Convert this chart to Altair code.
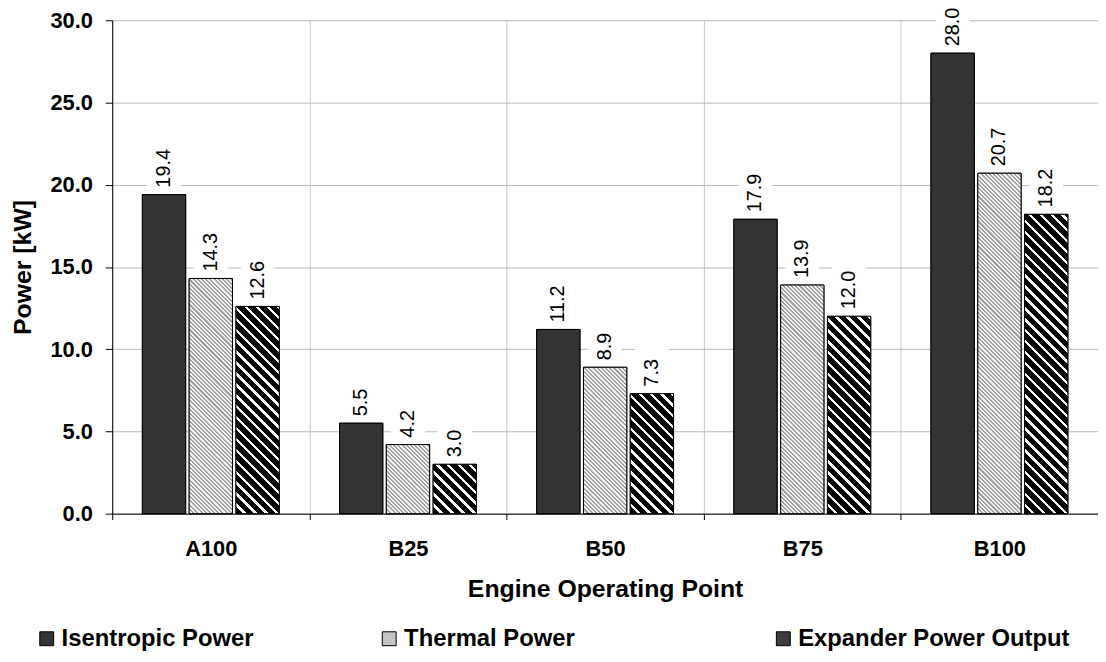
import altair as alt

categories = ["A100", "B25", "B50", "B75", "B100"]
series = ["Isentropic Power", "Thermal Power", "Expander Power Output"]
isentropic = [19.4, 5.5, 11.2, 17.9, 28.0]
thermal = [14.3, 4.2, 8.9, 13.9, 20.7]
expander = [12.6, 3.0, 7.3, 12.0, 18.2]
y_ticks = [0, 5, 10, 15, 20, 25, 30]
legend_colors = ["#333333", "#c4c4c4", "#3c3c3c"]
legend_x = [-78, 267, 664]

W, H = 993, 497
Y_MAX = 30
PAD_IN, PAD_OUT = 0.075, 0.644
FONT = "Liberation Sans, Arial, sans-serif"

band = W / len(categories)
sub_step = band / (len(series) - PAD_IN + 2 * PAD_OUT)
bar_w = sub_step * (1 - PAD_IN)


def stripes(w, h, period, frac, c1, c2):
    L = w + h
    stops = []
    k = 0
    while k * period / L < 1:
        a = k * period / L
        b = min((k * period + frac * period) / L, 1)
        c = min((k + 1) * period / L, 1)
        stops += [{"offset": a, "color": c1}, {"offset": b, "color": c1},
                  {"offset": b, "color": c2}, {"offset": c, "color": c2}]
        k += 1
    s = L / (w * w + h * h)
    return {"gradient": "linear", "x1": 0, "y1": 1, "x2": w * s, "y2": 1 - h * s, "stops": stops}


records = []
for i, cat in enumerate(categories):
    for name, vals in zip(series, [isentropic, thermal, expander]):
        v = vals[i]
        h = v * H / Y_MAX
        if name == "Isentropic Power":
            fill = "#333333"
        elif name == "Thermal Power":
            fill = stripes(bar_w, h, 4.2, 0.5, "#a0a0a0", "#f4f4f4")
        else:
            fill = stripes(bar_w, h, 11.0, 0.68, "#000000", "#ffffff")
        records.append({"cat": cat, "series": name, "value": v, "grad": fill})

base = alt.Chart(alt.Data(values=records))

x = alt.X(
    "cat:N", sort=categories,
    scale=alt.Scale(paddingInner=0, paddingOuter=0),
    axis=alt.Axis(
        title="Engine Operating Point", tickBand="extent", grid=True,
        gridColor="#c8c8c8", gridWidth=1, labelAngle=0, tickSize=6,
        labelPadding=19, titlePadding=17, labelFontSize=22, titleFontSize=25,
    ),
)
xoff = alt.XOffset("series:N", sort=series,
                   scale=alt.Scale(domain=series, paddingInner=PAD_IN, paddingOuter=PAD_OUT))
y = alt.Y(
    "value:Q",
    scale=alt.Scale(domain=[0, Y_MAX], nice=False),
    axis=alt.Axis(
        title="Power [kW]", values=y_ticks, format=".1f", grid=True,
        gridColor="#b8b8b8", gridWidth=1, tickSize=7, labelPadding=13,
        titlePadding=15, labelFontSize=22, titleFontSize=25,
    ),
)

legend_layers = []
for name, col, lx in zip(series, legend_colors, legend_x):
    legend_layers.append(
        base.transform_filter(alt.datum.series == name)
        .mark_bar(stroke="black", strokeWidth=1)
        .encode(
            x=x, xOffset=xoff, y=y,
            fill=alt.Fill(
                "series:N",
                scale=alt.Scale(domain=[name], range=[col]),
                legend=alt.Legend(
                    title=None, orient="none", legendX=lx, legendY=611,
                    symbolType="square", symbolSize=196,
                    symbolStrokeColor="black", symbolStrokeWidth=1, symbolOpacity=1,
                    labelFont=FONT, labelFontSize=24, labelFontWeight="bold",
                    labelColor="black", labelOffset=3, labelLimit=500,
                ),
            ),
        )
    )

bars_pattern = base.mark_bar(stroke="black", strokeWidth=1).encode(
    x=x, xOffset=xoff, y=y,
    fill=alt.Fill("grad:N", scale=None, legend=None),
)

boxes = base.mark_point(
    shape="M-0.74,-1H0.74V1H-0.74Z", size=2116, filled=True,
    fill="white", opacity=1, strokeWidth=0, yOffset=-27,
).encode(x=x, xOffset=xoff, y=y)

labels = base.mark_text(
    angle=270, align="left", baseline="middle", dx=7,
    font=FONT, fontSize=20, color="black",
).encode(x=x, xOffset=xoff, y=y, text=alt.Text("value:Q", format=".1f"))

chart = (
    alt.layer(*legend_layers, bars_pattern, boxes, labels)
    .resolve_scale(fill="independent")
    .properties(
        width=W, height=H,
        autosize=alt.AutoSizeParams(type="none"),
        padding={"left": 105, "top": 10, "right": 0, "bottom": 139},
        background="white",
    )
    .configure_view(stroke=None)
    .configure_axis(
        labelFont=FONT, titleFont=FONT, labelFontWeight="bold",
        titleFontWeight="bold", labelColor="black", titleColor="black",
        domainColor="black", tickColor="black", domainWidth=1, tickWidth=1,
    )
)

chart.save("out.html", embed_options={"renderer": "svg", "actions": False})
